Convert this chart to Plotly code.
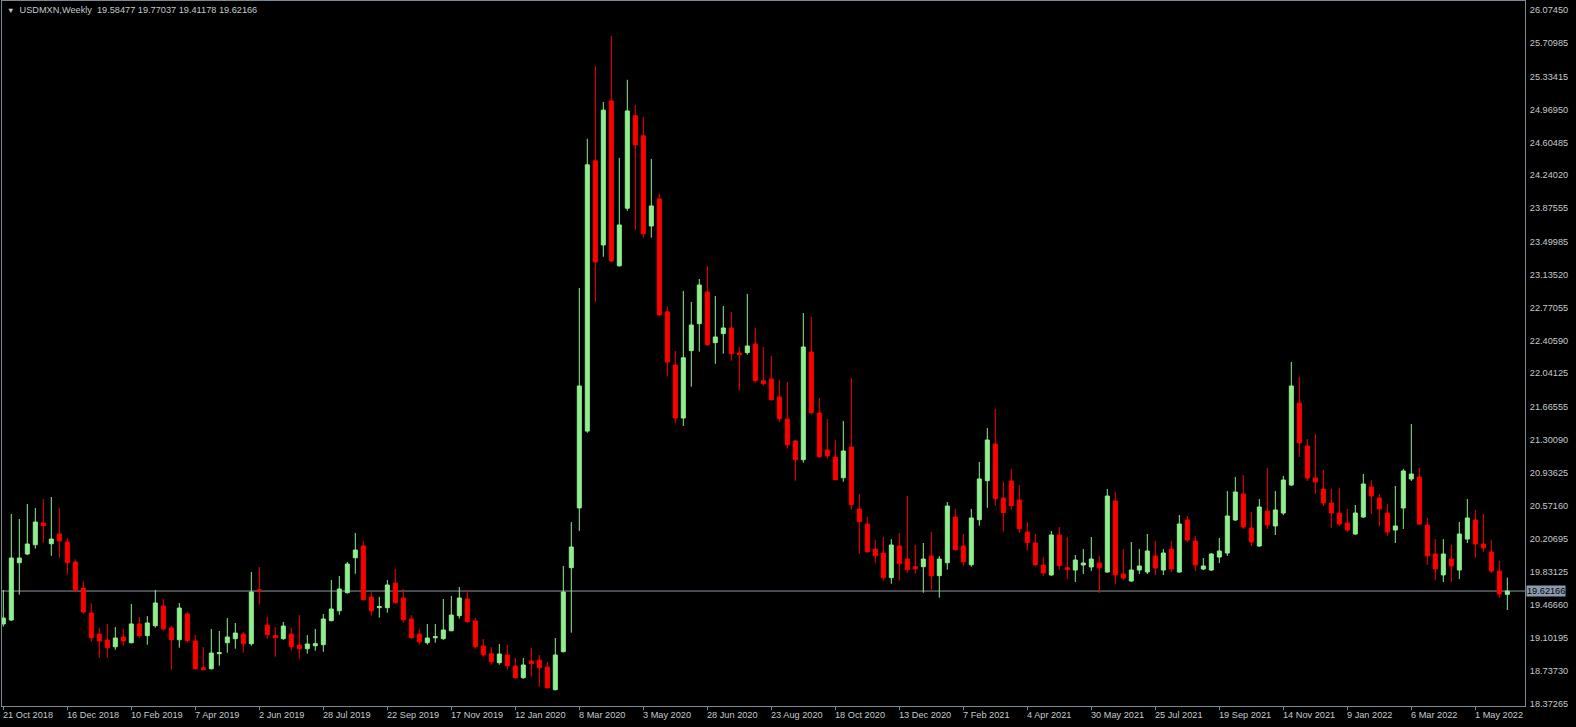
import plotly.graph_objects as go

symbol = "USDMXN,Weekly"

open_ = [19.256, 19.300, 19.936, 20.033, 20.136, 20.377, 20.147, 20.255, 20.166, 19.944,
         19.655, 19.378, 19.144, 19.078, 19.003, 19.111, 19.048, 19.256, 19.126, 19.237,
         19.455, 19.211, 19.081, 19.367, 19.067, 18.770, 18.759, 18.926, 19.048, 19.092,
         19.144, 19.037, 19.636, 19.244, 19.126, 19.092, 19.144, 19.022, 18.981, 19.014,
         19.026, 19.293, 19.403, 19.603, 19.992, 20.122, 19.555, 19.437, 19.437, 19.711,
         19.544, 19.311, 19.144, 19.048, 19.103, 19.092, 19.181, 19.348, 19.533, 19.289,
         19.011, 18.926, 18.826, 18.911, 18.789, 18.659, 18.844, 18.855, 18.777, 18.526,
         18.948, 19.881, 20.545, 21.398, 24.399, 23.465, 25.064, 23.233, 23.873, 24.899,
         24.677, 23.676, 23.976, 22.722, 22.132, 21.543, 22.291, 22.591, 22.943, 22.380,
         22.480, 22.543, 22.265, 22.269, 22.365, 21.958, 21.977, 21.777, 21.532, 21.288,
         21.080, 22.276, 21.599, 21.188, 21.110, 20.880, 21.221, 20.533, 20.366, 20.088,
         20.044, 19.770, 20.122, 19.977, 19.892, 19.892, 20.011, 19.792, 19.936, 20.444,
         20.122, 19.914, 20.414, 20.847, 21.255, 20.655, 20.844, 20.633, 20.277, 20.155,
         19.911, 19.800, 20.244, 19.881, 19.855, 19.911, 19.889, 19.933, 19.833, 20.622,
         19.811, 19.733, 19.855, 19.833, 20.011, 19.855, 20.088, 19.833, 20.411, 20.177,
         19.866, 19.855, 19.999, 20.044, 20.411, 20.699, 20.322, 20.122, 20.510, 20.344,
         20.488, 20.799, 21.710, 21.232, 20.877, 20.755, 20.599, 20.488, 20.377, 20.255,
         20.444, 20.777, 20.655, 20.488, 20.299, 20.544, 20.866, 20.888, 20.355, 20.033,
         19.800, 19.977, 19.855, 20.199, 20.411, 20.144, 20.055, 19.844, 19.58477]

high = [19.633, 20.477, 20.422, 20.588, 20.544, 20.644, 20.666, 20.544, 20.211, 19.974,
        19.730, 19.485, 19.211, 19.256, 19.222, 19.200, 19.478, 19.333, 19.344, 19.633,
        19.533, 19.233, 19.489, 19.389, 19.133, 19.000, 19.200, 19.178, 19.322, 19.267,
        19.167, 19.833, 19.889, 19.333, 19.222, 19.278, 19.211, 19.355, 19.133, 19.200,
        19.367, 19.744, 19.789, 19.944, 20.266, 20.177, 19.611, 19.555, 19.744, 19.866,
        19.644, 19.355, 19.200, 19.256, 19.256, 19.533, 19.566, 19.666, 19.633, 19.322,
        19.089, 19.000, 19.033, 19.022, 18.878, 18.878, 18.989, 18.911, 18.833, 19.100,
        19.900, 20.388, 22.987, 24.644, 25.453, 25.053, 25.786, 24.432, 25.299, 25.019,
        24.886, 24.420, 24.032, 22.781, 22.288, 22.954, 22.832, 23.087, 23.231, 22.898,
        22.787, 22.720, 22.332, 22.921, 22.543, 22.332, 22.232, 21.965, 21.943, 21.299,
        22.709, 22.665, 21.765, 21.532, 21.299, 21.510, 21.987, 20.699, 20.444, 20.188,
        20.222, 20.199, 20.266, 20.677, 20.133, 20.155, 20.277, 20.011, 20.610, 20.533,
        20.255, 20.533, 21.055, 21.432, 21.643, 20.833, 20.977, 20.799, 20.388, 20.255,
        19.999, 20.288, 20.333, 20.222, 20.022, 20.088, 20.222, 20.011, 20.755, 20.721,
        20.088, 20.166, 20.088, 20.255, 20.177, 20.088, 20.177, 20.466, 20.455, 20.233,
        19.988, 20.044, 20.211, 20.733, 20.888, 20.910, 20.499, 20.644, 20.988, 20.733,
        20.899, 22.165, 21.999, 21.310, 21.366, 20.966, 20.755, 20.766, 20.533, 20.577,
        20.921, 20.855, 20.699, 20.588, 20.788, 20.977, 21.477, 20.988, 20.433, 20.199,
        20.199, 20.133, 20.388, 20.644, 20.522, 20.477, 20.188, 19.955, 19.77037]

low = [19.226, 19.290, 19.581, 20.020, 20.092, 20.158, 20.014, 19.992, 19.803, 19.614,
       19.370, 19.059, 18.881, 18.881, 18.970, 19.014, 19.040, 19.103, 19.026, 19.215,
       19.181, 18.748, 18.992, 19.048, 18.748, 18.740, 18.750, 18.792, 18.937, 18.981,
       18.937, 19.014, 19.470, 19.092, 18.892, 19.081, 18.959, 18.870, 18.926, 18.959,
       18.948, 19.285, 19.359, 19.595, 19.814, 19.520, 19.348, 19.326, 19.381, 19.485,
       19.270, 19.095, 19.026, 19.026, 19.048, 19.081, 19.175, 19.315, 19.270, 18.981,
       18.892, 18.804, 18.804, 18.748, 18.650, 18.648, 18.670, 18.559, 18.537, 18.520,
       18.940, 19.159, 20.289, 21.379, 22.833, 23.334, 23.276, 23.225, 23.844, 23.632,
       23.546, 23.546, 22.680, 22.004, 21.489, 21.455, 21.891, 22.280, 22.350, 22.146,
       22.258, 22.180, 21.847, 22.246, 21.935, 21.902, 21.736, 21.502, 21.202, 20.847,
       21.047, 21.580, 21.105, 21.092, 20.850, 20.836, 20.525, 20.036, 20.047, 19.936,
       19.736, 19.703, 19.736, 19.825, 19.814, 19.603, 19.636, 19.548, 19.859, 20.070,
       19.903, 19.892, 20.347, 20.547, 20.569, 20.281, 20.525, 20.269, 20.070, 19.892,
       19.789, 19.790, 19.859, 19.755, 19.722, 19.811, 19.844, 19.600, 19.825, 19.700,
       19.744, 19.725, 19.811, 19.811, 19.800, 19.800, 19.833, 19.825, 20.166, 19.844,
       19.855, 19.844, 19.933, 20.011, 20.399, 20.311, 20.122, 20.110, 20.311, 20.244,
       20.466, 20.790, 21.110, 20.844, 20.699, 20.566, 20.322, 20.344, 20.277, 20.245,
       20.433, 20.477, 20.344, 20.233, 20.155, 20.311, 20.844, 20.355, 19.911, 19.744,
       19.722, 19.722, 19.755, 20.155, 19.988, 20.055, 19.822, 19.544, 19.41178]

close = [19.322, 19.988, 19.988, 20.144, 20.388, 20.347, 20.199, 20.177, 19.936, 19.633,
         19.389, 19.103, 19.067, 18.992, 19.100, 19.067, 19.256, 19.126, 19.267, 19.489,
         19.203, 19.081, 19.433, 19.071, 18.759, 18.748, 18.933, 18.937, 19.111, 19.155,
         19.037, 19.611, 19.625, 19.137, 19.103, 19.233, 19.003, 18.981, 19.033, 19.037,
         19.311, 19.422, 19.644, 19.922, 20.077, 19.525, 19.403, 19.448, 19.689, 19.492,
         19.304, 19.103, 19.059, 19.100, 19.114, 19.189, 19.355, 19.544, 19.281, 19.003,
         18.914, 18.837, 18.922, 18.792, 18.659, 18.800, 18.814, 18.770, 18.548, 18.911,
         19.611, 20.111, 21.899, 24.355, 23.276, 24.962, 23.287, 23.687, 24.953, 24.576,
         23.589, 23.898, 22.688, 22.165, 21.543, 22.212, 22.576, 23.020, 22.357, 22.443,
         22.543, 22.258, 22.246, 22.343, 21.958, 21.924, 21.747, 21.536, 21.246, 21.080,
         22.332, 21.602, 21.113, 21.125, 20.858, 21.177, 20.580, 20.392, 20.058, 20.014,
         19.770, 20.133, 19.925, 19.859, 19.870, 19.977, 19.792, 19.977, 20.566, 20.081,
         19.947, 20.433, 20.866, 21.299, 20.647, 20.492, 20.569, 20.314, 20.158, 19.914,
         19.822, 20.244, 19.903, 19.859, 19.966, 19.933, 19.977, 19.881, 20.677, 19.800,
         19.766, 19.855, 19.900, 20.066, 19.877, 20.044, 19.866, 20.366, 20.188, 19.911,
         19.900, 20.033, 20.066, 20.455, 20.721, 20.333, 20.166, 20.555, 20.355, 20.522,
         20.855, 21.899, 21.266, 20.877, 20.833, 20.599, 20.488, 20.366, 20.299, 20.488,
         20.810, 20.677, 20.533, 20.277, 20.344, 20.955, 20.921, 20.366, 20.011, 19.866,
         20.033, 19.900, 20.255, 20.433, 20.144, 20.100, 19.844, 19.589, 19.62166]

x_tick_index = list(range(0, 185, 8))
x_tick_labels = ["21 Oct 2018", "16 Dec 2018", "10 Feb 2019", "7 Apr 2019", "2 Jun 2019",
                 "28 Jul 2019", "22 Sep 2019", "17 Nov 2019", "12 Jan 2020", "8 Mar 2020",
                 "3 May 2020", "28 Jun 2020", "23 Aug 2020", "18 Oct 2020", "13 Dec 2020",
                 "7 Feb 2021", "4 Apr 2021", "30 May 2021", "25 Jul 2021", "19 Sep 2021",
                 "14 Nov 2021", "9 Jan 2022", "6 Mar 2022", "1 May 2022"]
y_tick_values = [26.07450, 25.70985, 25.33415, 24.96950, 24.60485, 24.24020, 23.87555,
                 23.49985, 23.13520, 22.77055, 22.40590, 22.04125, 21.66555, 21.30090,
                 20.93625, 20.57160, 20.20695, 19.83125, 19.46660, 19.10195, 18.73730,
                 18.37265]

BG = "#000000"
FRAME = "#7d8894"
TXT = "#c4c8cc"
UP = "#90EE90"
DOWN = "#FF0000"
FONT = "Liberation Sans, Arial, sans-serif"
FS = 9.2

idx = list(range(len(close)))

fig = go.Figure()
fig.add_trace(go.Candlestick(
    x=idx, open=open_, high=high, low=low, close=close,
    increasing=dict(fillcolor=UP, line=dict(color=UP, width=1)),
    decreasing=dict(fillcolor=DOWN, line=dict(color=DOWN, width=1)),
    whiskerwidth=0, showlegend=False, hoverinfo="skip",
))

last = len(close) - 1
fig.add_shape(type="line", xref="paper", x0=0, x1=1, yref="y",
              y0=close[last], y1=close[last], line=dict(color="#8c96a2", width=1), layer="below")

annotations = []
for i, lab in zip(x_tick_index, x_tick_labels):
    annotations.append(dict(x=i, xref="x", y=0, yref="paper", text=lab, showarrow=False,
                            xanchor="left", yanchor="top", xshift=-2, yshift=-2,
                            font=dict(family=FONT, size=FS, color=TXT)))

title_txt = ('<span style="font-size:7.5px">\u25BC</span>\u00a0\u00a0' + symbol + '\u00a0\u00a0'
             + "\u00a0".join(f"{v:.5f}" for v in (open_[last], high[last], low[last], close[last])))
annotations.append(dict(x=0, xref="paper", y=1, yref="paper", text=title_txt, showarrow=False,
                        xanchor="left", yanchor="top", xshift=3, yshift=-2,
                        font=dict(family=FONT, size=FS, color=TXT)))

annotations.append(dict(x=1, xref="paper", y=close[last], yref="y", text=f"{close[last]:.5f}",
                        showarrow=False, xanchor="left", yanchor="middle", xshift=1,
                        bgcolor="#8c9cae", borderpad=0,
                        font=dict(family=FONT, size=FS, color="#000000")))

fig.update_layout(
    width=1576, height=727,
    margin=dict(l=2, r=51, t=1, b=21, autoexpand=False),
    paper_bgcolor=BG, plot_bgcolor=BG,
    boxgap=0.5, boxgroupgap=0,
    hovermode=False, showlegend=False,
    annotations=annotations,
    xaxis=dict(range=[-0.1625, 190.21], showgrid=False, zeroline=False, automargin=False,
               showline=True, mirror=True, linecolor=FRAME, linewidth=1,
               tickvals=x_tick_index, ticktext=[""] * len(x_tick_index),
               ticks="outside", ticklen=3, tickcolor=FRAME, tickwidth=1,
               rangeslider=dict(visible=False), fixedrange=True),
    yaxis=dict(side="right", range=[18.345, 26.174], showgrid=False, zeroline=False,
               automargin=False,
               showline=True, mirror=True, linecolor=FRAME, linewidth=1,
               tickvals=y_tick_values, ticktext=[f"{v:.5f}" for v in y_tick_values],
               ticks="", ticklabelstandoff=2,
               tickfont=dict(family=FONT, size=FS, color=TXT), fixedrange=True),
)

fig.write_html("out.html", config={"displayModeBar": False},
               post_script="document.body.style.margin='0';document.body.style.background='#000';")
